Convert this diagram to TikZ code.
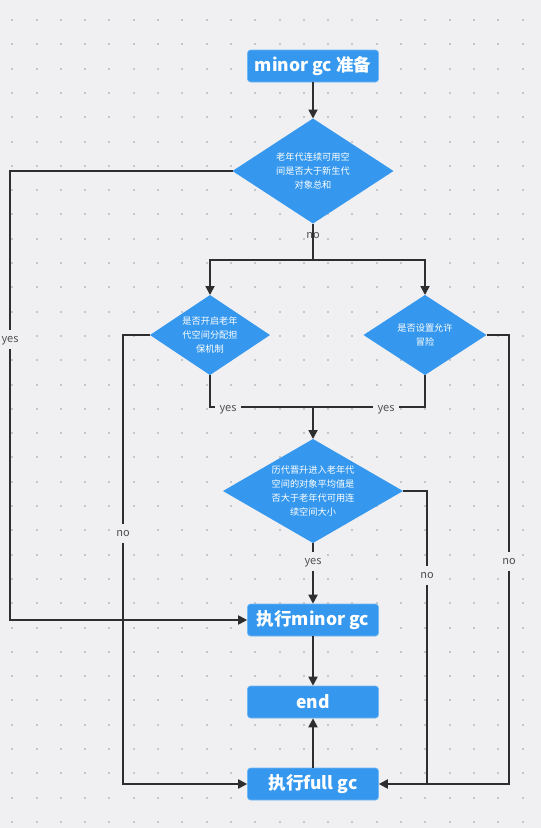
\documentclass[tikz,border=0pt]{standalone}
\usepackage{fontspec}
\setmainfont{Noto Sans CJK SC}
\usetikzlibrary{shapes.geometric,arrows.meta,calc}
\definecolor{bg}{HTML}{F0F0F3}
\definecolor{blu}{HTML}{3598EE}
\definecolor{ln}{HTML}{2E2E2E}
\definecolor{dotc}{HTML}{C6C6CA}
\definecolor{lblc}{HTML}{505050}
\begin{document}
\begin{tikzpicture}[x=1pt,y=-1pt,
  box/.style={fill=blu, draw=blu!70!white, line width=0.6pt, rounded corners=3pt,
    minimum width=131pt, minimum height=32pt, inner sep=0pt, text=white,
    font=\fontsize{17.5}{20}\selectfont\bfseries},
  dia/.style={diamond, fill=blu, inner sep=0pt, outer sep=0pt},
  dtext/.style={inner sep=0pt, text=white, align=center,
    font=\fontsize{9.2}{14}\selectfont},
  conn/.style={draw=ln, line width=1.8pt},
  arr/.style={conn, -{Triangle[length=9pt,width=9pt]}},
  lbl/.style={text=lblc, font=\fontsize{11}{12}\selectfont, text height=7.5pt, text depth=2pt, inner xsep=5pt, inner ysep=5pt, yshift=-1.5pt},
  lblf/.style={lbl, fill=bg}
]
\useasboundingbox (0,0) rectangle (541,828);
\fill[bg] (0,0) rectangle (541,828);
\foreach \i in {0,...,22}{
  \foreach \j in {0,...,33}{
    \fill[dotc] (12.2+\i*24.3-1, 20+\j*24.3-1) rectangle ++(2,2);
  }
}

% nodes
\node[box] (start) at (313,66) {minor gc 准备};
\node[dia, minimum width=161pt, minimum height=105pt] (d1) at (313,171) {};
\node[dtext] (t1) at (d1) {老年代连续可用空\\间是否大于新生代\\对象总和};
\node[dia, minimum width=120pt, minimum height=80pt] (d2) at (210,335) {};
\node[dtext] (t2) at (d2) {是否开启老年\\代空间分配担\\保机制};
\node[dia, minimum width=123pt, minimum height=80pt] (d3) at (425,335) {};
\node[dtext] (t3) at (d3) {是否设置允许\\冒险};
\node[dia, minimum width=180pt, minimum height=104pt] (d4) at (313,491) {};
\node[dtext] (t4) at (d4) {历代晋升进入老年代\\空间的对象平均值是\\否大于老年代可用连\\续空间大小};
\node[box] (minor) at (313,620) {执行minor gc};
\node[box] (endn) at (313,702) {end};
\node[box] (full) at (313,784) {执行full gc};

% bend coordinates
\coordinate (j1) at (313,260);
\coordinate (j2) at (313,407);
\coordinate (l1a) at (10,171);
\coordinate (l1b) at (10,620);
\coordinate (l2a) at (123,335);
\coordinate (l2b) at (123,784);
\coordinate (r3a) at (509,335);
\coordinate (r3b) at (509,784);
\coordinate (r4a) at (427,491);
\coordinate (r4b) at (427,784);

% connectors
\draw[arr] (start) -- (d1);
\draw[conn] (d1.south) -- (j1);
\draw[arr] (j1) -| (d2.north);
\draw[arr] (j1) -| (d3.north);
\node[lbl] (nod1) at (313,234) {no};

\draw[conn] (d2.south) |- (j2);
\draw[conn] (d3.south) |- (j2);
\draw[arr] (j2) -- (d4.north);
\node[lblf] (yes2) at (228,407) {yes};
\node[lblf] (yes3) at (386,407) {yes};

\draw[arr] (d4.south) -- (minor.north);
\node[lblf] (yes4) at (313,560) {yes};

\draw[arr] (d1.west) -- (l1a) -- (l1b) -- (minor.west);
\node[lblf] (yes1) at (10,338) {yes};

\draw[arr] (d2.west) -- (l2a) -- (l2b) -- (full.west);
\node[lblf] (no2) at (123,532) {no};

\draw[conn] (d4.east) -- (r4a) -- (r4b);
\node[lblf] (no4) at (427,574) {no};

\draw[arr] (d3.east) -- (r3a) -- (r3b) -- (full.east);
\node[lblf] (no3) at (509,560) {no};

\draw[arr] (minor.south) -- (endn.north);
\draw[arr] (full.north) -- (endn.south);
\end{tikzpicture}
\end{document}
